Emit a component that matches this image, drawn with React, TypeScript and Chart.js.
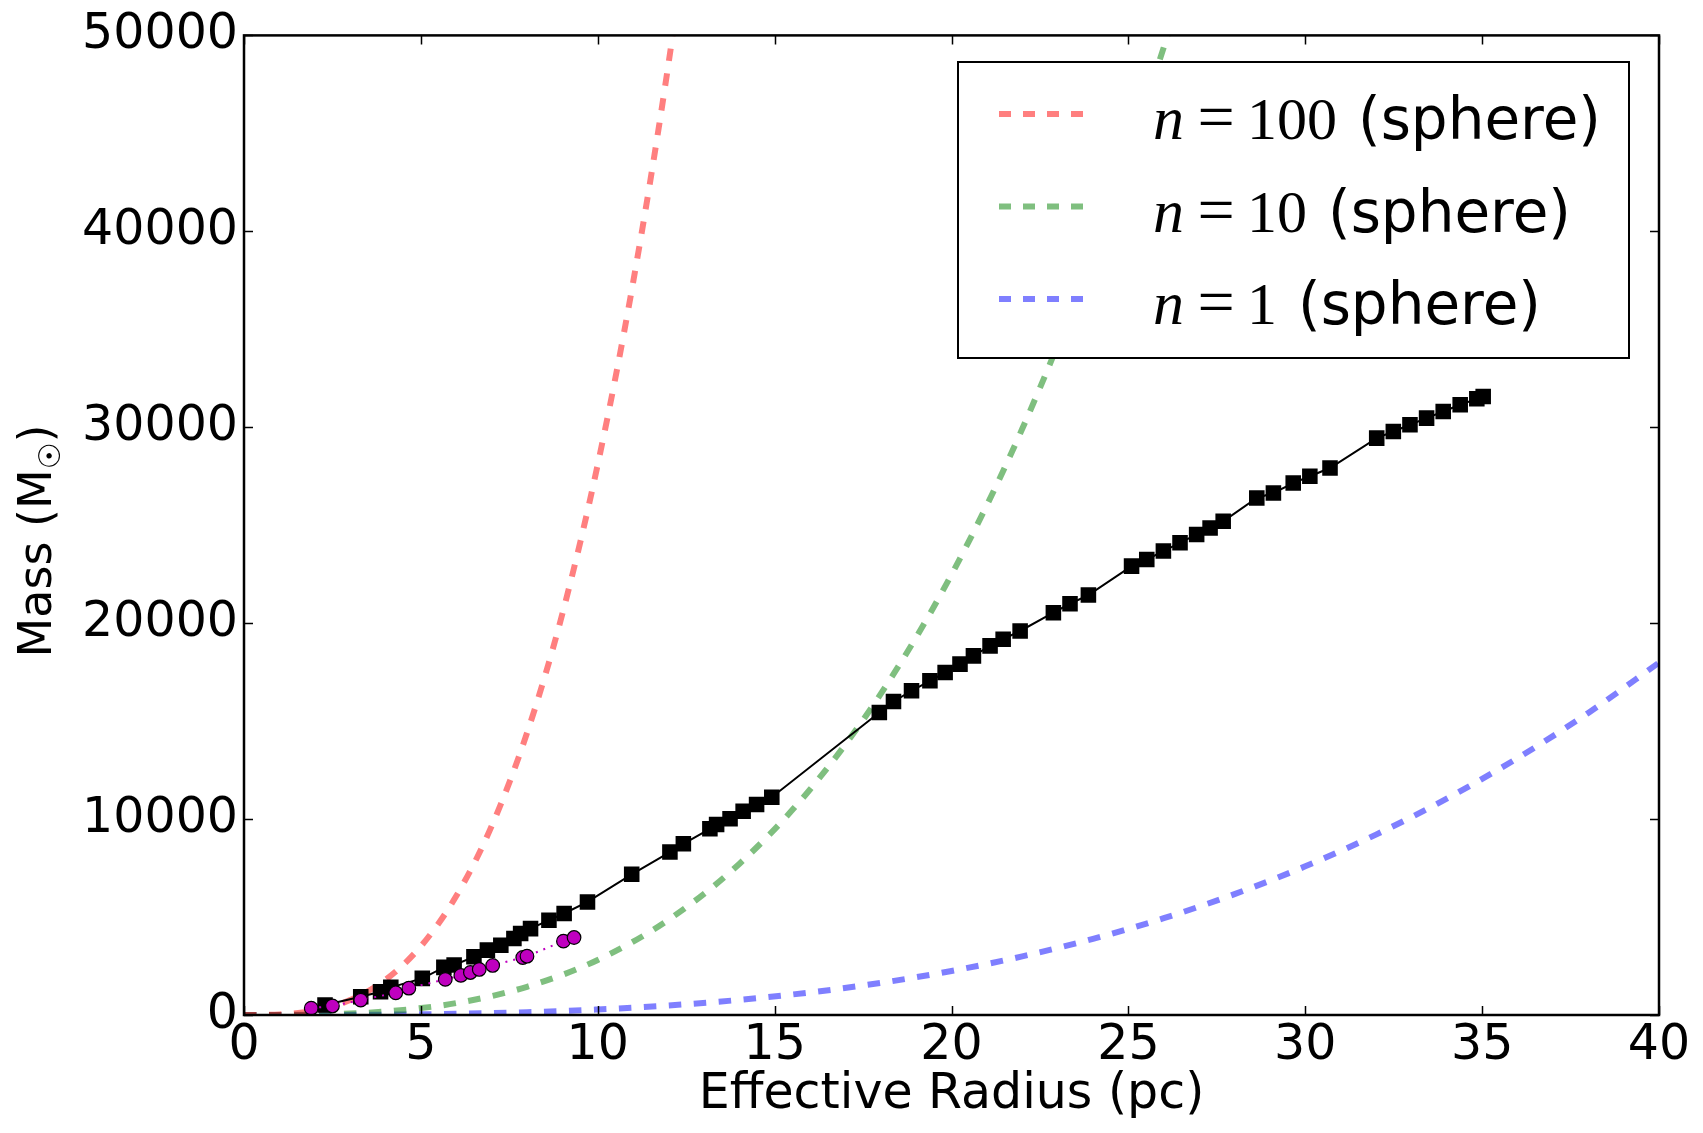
import { useEffect, useRef } from 'react';
import { Chart, registerables } from 'chart.js';

Chart.register(...registerables);

// ---- axis ticks ----
const X_TICKS = [0, 5, 10, 15, 20, 25, 30, 35, 40];
const Y_TICKS = [0, 10000, 20000, 30000, 40000, 50000];

// ---- model curves (radius in pc, mass in Msun) ----
const N100_R = [0, 1, 2, 3, 4, 5, 6, 7, 8, 9, 10, 11, 12, 13];
const N100_M = [0, 28, 225, 760, 1800, 3510, 6070, 9640, 14390, 20480, 28100, 37400, 48560, 61740];

const N10_R = [0, 2, 4, 6, 8, 10, 12, 14, 16, 18, 20, 22, 24, 26, 27];
const N10_M = [0, 22, 180, 607, 1440, 2810, 4860, 7710, 11510, 16390, 22480, 29920, 38850, 49390, 55310];

const N1_R = [0, 2, 4, 6, 8, 10, 12, 14, 16, 18, 20, 22, 24, 26, 28, 30, 32, 34, 36, 38, 40];
const N1_M = [0, 2, 18, 61, 144, 281, 486, 771, 1151, 1639, 2248, 2992, 3885, 4939, 6169, 7587, 9208, 11045, 13111, 15420, 17984];

// ---- black squares ----
const SQ_R = [
  2.29, 3.30, 3.86, 4.15, 5.04, 5.65, 5.94, 6.50, 6.88, 7.26, 7.63, 7.82, 8.10, 8.62, 9.05, 9.71,
  10.96, 12.04, 12.42, 13.17, 13.36, 13.74, 14.11, 14.49, 14.92,
  17.96, 18.36, 18.87, 19.39, 19.82, 20.24, 20.62, 21.09, 21.46, 21.94, 22.88, 23.35, 23.87,
  25.09, 25.52, 25.99, 26.46, 26.93, 27.31, 27.68, 28.63, 29.10, 29.66, 30.13, 30.70,
  32.02, 32.49, 32.96, 33.43, 33.90, 34.38, 34.85, 35.03,
];
const SQ_M = [
  509, 930, 1190, 1410, 1870, 2430, 2550, 2970, 3310, 3560, 3900, 4160, 4410, 4840, 5180, 5770,
  7180, 8315, 8740, 9505, 9725, 10015, 10400, 10745, 11115,
  15440, 16000, 16550, 17060, 17480, 17910, 18330, 18840, 19180, 19600, 20535, 20990, 21435,
  22910, 23250, 23680, 24100, 24530, 24860, 25200, 26390, 26645, 27150, 27500, 27920,
  29445, 29785, 30125, 30465, 30805, 31145, 31450, 31570,
];

// ---- magenta circles ----
const CIRC_R = [1.90, 2.50, 3.30, 4.29, 4.66, 5.69, 6.13, 6.40, 6.65, 7.03, 7.88, 8.00, 9.03, 9.33];
const CIRC_M = [350, 460, 760, 1135, 1370, 1818, 2020, 2170, 2325, 2530, 2935, 3000, 3770, 3955];

const LEGEND_LABELS = ['n=100 (sphere)', 'n=10 (sphere)', 'n=1 (sphere)'];
const LEGEND_COLORS = ['rgba(255,0,0,0.5)', 'rgba(0,128,0,0.5)', 'rgba(0,0,255,0.5)'];

const X_TITLE = 'Effective Radius (pc)';
const Y_TITLE = ['Mass (M', '\u2609', ')'];

const toPts = (xs: number[], ys: number[]) => xs.map((x, i) => ({ x, y: ys[i] }));

const SANS = '"DejaVu Sans", sans-serif';
const SERIF = '"Liberation Serif", "DejaVu Serif", serif';
const FS = 49;

const decorPlugin = {
  id: 'decor',
  afterDraw(chart: any) {
    const { ctx, chartArea, scales } = chart;
    const { left, right, top, bottom } = chartArea;
    ctx.save();
    // inner ticks on all four sides
    ctx.strokeStyle = '#000';
    ctx.lineWidth = 1.5;
    const tl = 9;
    ctx.beginPath();
    X_TICKS.forEach((v) => {
      const px = Math.round(scales.x.getPixelForValue(v)) + 0.5;
      ctx.moveTo(px, bottom);
      ctx.lineTo(px, bottom - tl);
      ctx.moveTo(px, top);
      ctx.lineTo(px, top + tl);
    });
    Y_TICKS.forEach((v) => {
      const py = Math.round(scales.y.getPixelForValue(v)) + 0.5;
      ctx.moveTo(left, py);
      ctx.lineTo(left + tl, py);
      ctx.moveTo(right, py);
      ctx.lineTo(right - tl, py);
    });
    ctx.stroke();
    // frame
    ctx.lineWidth = 2.5;
    ctx.strokeRect(left, top, right - left, bottom - top);

    // legend
    const bx = 958, by = 62, bw = 671, bh = 296;
    ctx.fillStyle = '#fff';
    ctx.fillRect(bx, by, bw, bh);
    ctx.lineWidth = 2;
    ctx.strokeStyle = '#000';
    ctx.strokeRect(bx, by, bw, bh);
    LEGEND_LABELS.forEach((lab, i) => {
      const ly = 114 + i * 92.5;
      ctx.save();
      ctx.strokeStyle = LEGEND_COLORS[i];
      ctx.lineWidth = 6;
      ctx.setLineDash([12, 12]);
      ctx.beginPath();
      ctx.moveTo(999, ly);
      ctx.lineTo(1083, ly);
      ctx.stroke();
      ctx.restore();
      const m = /^n=(\d+) (.*)$/.exec(lab);
      const num = m ? m[1] : '';
      const rest = m ? m[2] : lab;
      const base = ly + 25;
      ctx.fillStyle = '#000';
      ctx.textBaseline = 'alphabetic';
      ctx.textAlign = 'left';
      ctx.font = `italic 62px ${SERIF}`;
      ctx.fillText('n', 1153, base);
      ctx.font = `66px ${SERIF}`;
      ctx.textAlign = 'center';
      ctx.fillText('=', 1216, base);
      ctx.textAlign = 'left';
      ctx.font = `60px ${SERIF}`;
      ctx.fillText(num, 1247, base);
      const nw = ctx.measureText(num).width;
      ctx.font = `58px ${SANS}`;
      ctx.fillText(rest, 1247 + nw + 21, base);
    });

    // y axis title with subscript
    ctx.save();
    ctx.translate(0, 541);
    ctx.rotate(-Math.PI / 2);
    ctx.fillStyle = '#000';
    ctx.textBaseline = 'alphabetic';
    ctx.textAlign = 'left';
    ctx.font = `46px ${SANS}`;
    const w1 = ctx.measureText(Y_TITLE[0]).width;
    const w3 = ctx.measureText(Y_TITLE[2]).width;
    ctx.font = `30px ${SANS}`;
    const w2 = ctx.measureText(Y_TITLE[1]).width;
    const total = w1 + w2 + w3;
    const x0 = -total / 2;
    ctx.font = `46px ${SANS}`;
    ctx.fillText(Y_TITLE[0], x0, 51);
    ctx.font = `30px ${SANS}`;
    ctx.fillText(Y_TITLE[1], x0 + w1, 60);
    ctx.font = `46px ${SANS}`;
    ctx.fillText(Y_TITLE[2], x0 + w1 + w2, 51);
    ctx.restore();

    ctx.restore();
  },
};

export default function App() {
  const ref = useRef<HTMLCanvasElement | null>(null);
  useEffect(() => {
    if (!ref.current) return;
    const chart = new Chart(ref.current, {
      type: 'scatter',
      data: {
        datasets: [
          {
            label: 'circles',
            data: toPts(CIRC_R, CIRC_M),
            showLine: true,
            borderColor: '#BF00BF',
            borderWidth: 2,
            borderDash: [2, 6],
            pointRadius: 6.8,
            pointBackgroundColor: '#BF00BF',
            pointBorderColor: '#000',
            pointBorderWidth: 1.2,
            order: 0,
          },
          {
            label: 'squares',
            data: toPts(SQ_R, SQ_M),
            showLine: true,
            borderColor: '#000',
            borderWidth: 2,
            pointStyle: 'rect',
            pointRadius: 11,
            pointBackgroundColor: '#000',
            pointBorderWidth: 0,
            order: 1,
          },
          {
            label: LEGEND_LABELS[0],
            data: toPts(N100_R, N100_M),
            showLine: true,
            borderColor: LEGEND_COLORS[0],
            borderWidth: 6,
            borderDash: [12.5, 12.5],
            cubicInterpolationMode: 'monotone',
            pointRadius: 0,
            order: 2,
          },
          {
            label: LEGEND_LABELS[1],
            data: toPts(N10_R, N10_M),
            showLine: true,
            borderColor: LEGEND_COLORS[1],
            borderWidth: 6,
            borderDash: [12.5, 12.5],
            cubicInterpolationMode: 'monotone',
            pointRadius: 0,
            order: 3,
          },
          {
            label: LEGEND_LABELS[2],
            data: toPts(N1_R, N1_M),
            showLine: true,
            borderColor: LEGEND_COLORS[2],
            borderWidth: 6,
            borderDash: [12.5, 12.5],
            cubicInterpolationMode: 'monotone',
            pointRadius: 0,
            order: 4,
          },
        ],
      },
      options: {
        responsive: false,
        animation: false,
        devicePixelRatio: 1,
        events: [],
        layout: { padding: { top: 33, right: 44, left: 0, bottom: 0 } },
        plugins: { legend: { display: false }, tooltip: { enabled: false } },
        scales: {
          x: {
            type: 'linear',
            min: 0,
            max: 40,
            afterFit: (s: any) => { s.height = 118; },
            afterBuildTicks: (s: any) => { s.ticks = X_TICKS.map((v) => ({ value: v })); },
            grid: { display: false, drawTicks: false },
            border: { display: false },
            ticks: {
              padding: 2,
              maxRotation: 0,
              autoSkip: false,
              color: '#000',
              font: { family: SANS, size: FS },
              callback: (v: any) => String(v),
            },
            title: {
              display: true,
              text: X_TITLE,
              color: '#000',
              font: { family: SANS, size: FS },
              padding: { top: 0, bottom: 8 },
            },
          },
          y: {
            type: 'linear',
            min: 0,
            max: 50000,
            afterFit: (s: any) => { s.width = 244; },
            afterBuildTicks: (s: any) => { s.ticks = Y_TICKS.map((v) => ({ value: v })); },
            grid: { display: false, drawTicks: false },
            border: { display: false },
            ticks: {
              padding: 6,
              autoSkip: false,
              color: '#000',
              font: { family: SANS, size: FS },
              callback: (v: any) => String(v),
            },
          },
        },
      },
      plugins: [decorPlugin],
    } as any);
    return () => chart.destroy();
  }, []);
  return (
    <div style={{ position: 'absolute', left: 0, top: 0, width: 1703, height: 1133, background: '#fff' }}>
      <canvas ref={ref} width={1703} height={1133} style={{ display: 'block', width: 1703, height: 1133 }} />
    </div>
  );
}
